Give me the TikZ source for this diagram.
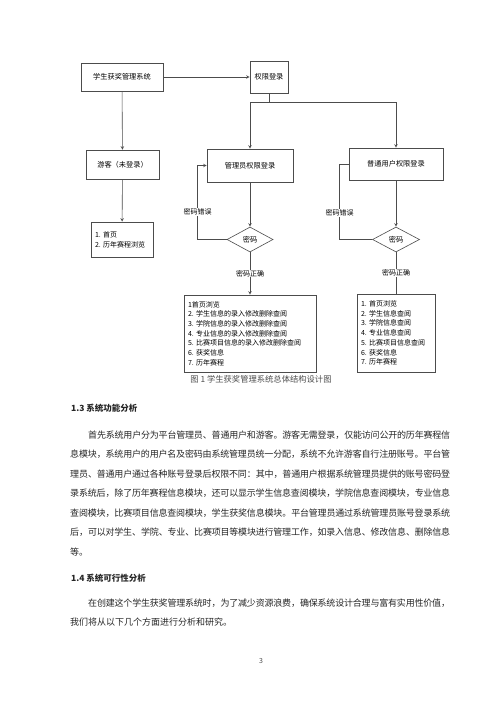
\documentclass[tikz,border=0pt]{standalone}
\usepackage{fontspec}
\setmainfont{Noto Sans CJK SC}
\XeTeXlinebreaklocale "zh"
\XeTeXlinebreakskip=0pt plus 1pt minus 0.3pt
\usetikzlibrary{shapes.geometric}
\begin{document}
\begin{tikzpicture}[x=1pt, y=-1pt, >=stealth,
  box/.style={draw=black!70, line width=0.6pt, inner sep=0pt, font=\fontsize{7.2}{9}\selectfont},
  listbox/.style={box, align=left, font=\fontsize{7}{9.7}\selectfont},
  choice/.style={draw=black!70, line width=0.6pt, diamond, aspect=1.85, inner sep=0pt,
    minimum width=46pt, minimum height=25pt, font=\fontsize{7.2}{9}\selectfont},
  tag/.style={fill=white, inner sep=0.5pt, font=\fontsize{7}{9}\selectfont},
  link/.style={draw=black!70, line width=0.6pt},
  body/.style={anchor=base west, inner sep=0pt, text=black!85}]
  \useasboundingbox (0,0) rectangle (500,707);
  \fill[white] (0,0) rectangle (500,707);
  % diagram boxes
  \node[box, minimum width=82pt, minimum height=28pt] (sys) at (122,77) {学生获奖管理系统};
  \node[box, minimum width=38pt, minimum height=32pt] (login) at (269,77) {权限登录};
  \node[box, minimum width=73pt, minimum height=29pt] (guest) at (122.5,164.5) {游客（未登录）};
  \node[listbox, minimum width=62pt, minimum height=35pt, text width=54pt] (guestlist) at (122,239.5)
    {1.\ 首页\\2.\ 历年赛程浏览};
  \node[box, minimum width=86pt, minimum height=33pt] (admin) at (250,165.5) {管理员权限登录};
  \node[box, minimum width=94pt, minimum height=32pt] (user) at (396,164) {普通用户权限登录};
  \node[choice] (pwa) at (250,239.5) {密码};
  \node[choice, minimum width=47pt] (pwu) at (396,239.5) {密码};
  \node[listbox, minimum width=132pt, minimum height=77pt, text width=124pt] (adminlist) at (250,333.5)
    {1首页浏览\\2.\ 学生信息的录入修改删除查阅\\3.\ 学院信息的录入修改删除查阅\\4.\ 专业信息的录入修改删除查阅\\5.\ 比赛项目信息的录入修改删除查阅\\6.\ 获奖信息\\7.\ 历年赛程};
  \node[listbox, minimum width=78pt, minimum height=78pt, text width=70pt] (userlist) at (396,333)
    {1.\ 首页浏览\\2.\ 学生信息查阅\\3.\ 学院信息查阅\\4.\ 专业信息查阅\\5.\ 比赛项目信息查阅\\6.\ 获奖信息\\7.\ 历年赛程};
  % connectors
  \draw[link,->] (sys) -- (login);
  \draw[link,->] (sys) -- (guest);
  \draw[link,->] (guest) -- (guestlist);
  \draw[link,->] (login.south) -- ++(0,9) -| (admin.north);
  \draw[link,->] (login.south) -- ++(0,9) -| (user.north);
  \draw[link,->] (admin) -- (pwa);
  \draw[link,->] (pwa.west) -- ++(-29,0) |- node[tag, pos=0.186] {密码错误} (admin.west);
  \draw[link,->] (pwa) -- node[tag] {密码正确} (adminlist);
  \draw[link,->] (user) -- (pwu);
  \draw[link] (pwu.west) -- ++(-32.5,0) |- node[tag, pos=0.175] {密码错误} (user.west);
  \draw[link] (pwu) -- node[tag] {密码正确} (userlist);
  \node[font=\fontsize{8.3}{10}\selectfont, text=black!70] (caption) at (261,379)
    {图 1 学生获奖管理系统总体结构设计图};
  % text of the page
  \node[body, font=\bfseries\fontsize{8.5}{10}\selectfont] (h13) at (71,411.4) {1.3 系统功能分析};
  \node[body, text width=380pt, align=justify, font=\fontsize{9}{19.5}\selectfont] (para1) at (70,438.4)
    {\hspace*{2em}首先系统用户分为平台管理员、普通用户和游客。游客无需登录，仅能访问公开的历年赛程信\linebreak
     息模块，系统用户的用户名及密码由系统管理员统一分配，系统不允许游客自行注册账号。平台管\linebreak
     理员、普通用户通过各种账号登录后权限不同：其中，普通用户根据系统管理员提供的账号密码登\linebreak
     录系统后，除了历年赛程信息模块，还可以显示学生信息查阅模块，学院信息查阅模块，专业信息\linebreak
     查阅模块，比赛项目信息查阅模块，学生获奖信息模块。平台管理员通过系统管理员账号登录系统\linebreak
     后，可以对学生、学院、专业、比赛项目等模块进行管理工作，如录入信息、修改信息、删除信息\linebreak
     等。};
  \node[body, font=\bfseries\fontsize{8.5}{10}\selectfont] (h14) at (71,581.4) {1.4 系统可行性分析};
  \node[body, text width=380pt, align=justify, font=\fontsize{9}{19.5}\selectfont] (para2) at (70,606.4)
    {\hspace*{2em}在创建这个学生获奖管理系统时，为了减少资源浪费，确保系统设计合理与富有实用性价值，\linebreak
     我们将从以下几个方面进行分析和研究。};
  \node[font=\fontsize{7}{8}\selectfont, text=black!70] (pageno) at (261,661) {3};
\end{tikzpicture}
\end{document}
